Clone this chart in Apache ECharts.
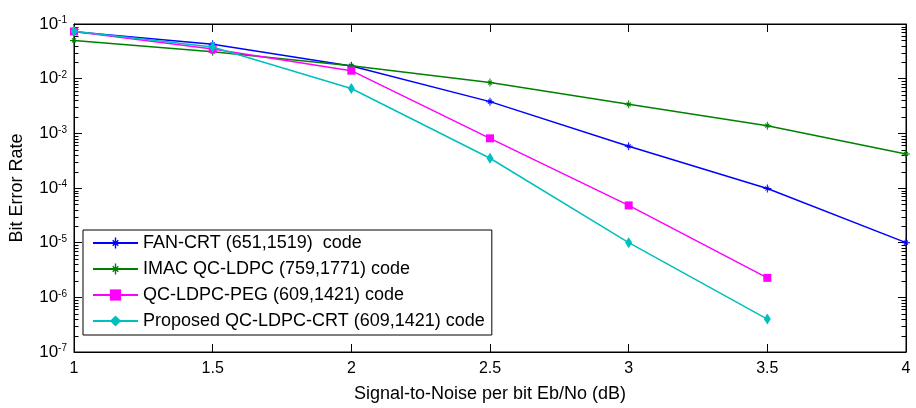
<!DOCTYPE html>
<html>
<head>
<meta charset="utf-8">
<script src="https://cdn.jsdelivr.net/npm/echarts@6/dist/echarts.min.js"></script>
<style>
html,body{margin:0;padding:0;background:#fff;}
#c{width:916px;height:408px;}
</style>
</head>
<body>
<div id="c"></div>
<script>
const snr = [1, 1.5, 2, 2.5, 3, 3.5, 4];
const fanCrt = [0.072, 0.0426, 0.0171, 0.0038, 5.8e-4, 9.8e-5, 1.0e-5];
const imac = [0.05, 0.031, 0.0172, 0.0085, 0.0034, 0.00138, 4.2e-4];
const peg = [0.073, 0.035, 0.014, 8.1e-4, 4.8e-5, 2.27e-6];
const proposed = [0.074, 0.038, 0.0066, 3.5e-4, 1.0e-5, 4.0e-7];
const names = [
  'FAN-CRT (651,1519)  code',
  'IMAC QC-LDPC (759,1771) code',
  'QC-LDPC-PEG (609,1421) code',
  'Proposed QC-LDPC-CRT (609,1421) code'
];
const colors = ['#0000ff', '#008000', '#ff00ff', '#00bfbf'];
const xTicks = [1, 1.5, 2, 2.5, 3, 3.5, 4];
const yDecades = [-7, -6, -5, -4, -3, -2, -1];

const FONT = 'Liberation Sans, Arial, Helvetica, sans-serif';
const star = 'path://M7,0L9,0L9,16L7,16Z M0,7L16,7L16,9L0,9Z M3.3,4.7L4.7,3.3L12.7,11.3L11.3,12.7Z M11.3,3.3L12.7,4.7L4.7,12.7L3.3,11.3Z';

function pairs(ys) { return ys.map((v, i) => [snr[i], v]); }

const chart = echarts.init(document.getElementById('c'), null, {renderer: 'canvas'});

const lineSeries = [fanCrt, imac, peg, proposed].map((d, i) => ({
  name: names[i],
  type: 'line',
  data: pairs(d),
  color: colors[i],
  lineStyle: {width: 1.5, color: colors[i]},
  itemStyle: {color: colors[i]},
  symbol: i < 2 ? star : (i === 2 ? 'rect' : 'diamond'),
  symbolSize: i < 2 ? 8 : (i === 2 ? 8 : [7, 11]),
  showSymbol: true,
  animation: false,
  z: 3 + i
}));

const option = {
  animation: false,
  backgroundColor: '#fff',
  textStyle: {fontFamily: FONT},
  grid: {left: 73, right: 10, top: 24, bottom: 56, show: true, borderColor: '#000', borderWidth: 1, backgroundColor: 'transparent'},
  legend: {
    data: names,
    orient: 'vertical',
    left: 83, top: 230,
    backgroundColor: '#fff',
    borderColor: '#000', borderWidth: 1,
    padding: [4, 7, 5, 9],
    itemWidth: 45, itemHeight: 14, itemGap: 8,
    textStyle: {fontSize: 18, fontFamily: FONT, color: '#000', lineHeight: 18},
    selectedMode: false,
    z: 10
  },
  xAxis: [{
    type: 'value', min: 1, max: 4, interval: 0.5,
    position: 'bottom',
    name: 'Signal-to-Noise per bit Eb/No (dB)',
    nameLocation: 'middle', nameGap: 33,
    nameTextStyle: {fontSize: 18, fontFamily: FONT, color: '#000'},
    axisLine: {show: true, lineStyle: {color: '#000', width: 1}},
    axisTick: {show: true, inside: true, length: 8, lineStyle: {color: '#000'}},
    axisLabel: {fontSize: 16, fontFamily: FONT, color: '#000', margin: 9,
      formatter: v => String(xTicks.find(t => Math.abs(t - v) < 1e-9) ?? v)},
    splitLine: {show: false}
  }, {
    type: 'value', min: 1, max: 4, interval: 0.5,
    position: 'top',
    axisLine: {show: true, lineStyle: {color: '#000', width: 1}},
    axisTick: {show: true, inside: true, length: 8, lineStyle: {color: '#000'}},
    axisLabel: {show: false},
    splitLine: {show: false}
  }],
  yAxis: [{
    type: 'log', logBase: 10, min: 1e-7, max: 0.1,
    position: 'left',
    name: 'Bit Error Rate',
    nameLocation: 'middle', nameGap: 48,
    nameTextStyle: {fontSize: 18, fontFamily: FONT, color: '#000'},
    axisLine: {show: true, lineStyle: {color: '#000', width: 1}},
    axisTick: {show: true, inside: true, length: 8, lineStyle: {color: '#000'}},
    axisLabel: {
      margin: 7,
      formatter: v => '{b|10}{s|' + Math.round(Math.log10(v)) + '}',
      rich: {
        b: {fontSize: 17, fontFamily: FONT, color: '#000', lineHeight: 17, padding: [5, 0, 0, 0], verticalAlign: 'bottom'},
        s: {fontSize: 10, fontFamily: FONT, color: '#000', lineHeight: 10, verticalAlign: 'top'}
      }
    },
    splitLine: {show: false}
  }, {
    type: 'log', logBase: 10, min: 1e-7, max: 0.1,
    position: 'right',
    axisLine: {show: true, lineStyle: {color: '#000', width: 1}},
    axisTick: {show: true, inside: true, length: 8, lineStyle: {color: '#000'}},
    axisLabel: {show: false},
    splitLine: {show: false}
  }],
  series: lineSeries
};
chart.setOption(option);

// minor ticks (2..9 within each decade) on left and right edges
const xl = chart.convertToPixel({xAxisIndex: 0}, xTicks[0]);
const xr = chart.convertToPixel({xAxisIndex: 0}, xTicks[xTicks.length - 1]);
const minorEls = [];
for (let i = 0; i < yDecades.length - 1; i++) {
  for (let k = 2; k <= 9; k++) {
    const v = k * Math.pow(10, yDecades[i]);
    const py = Math.round(chart.convertToPixel({yAxisIndex: 0}, v)) + 0.5;
    minorEls.push({type: 'line', shape: {x1: xl, y1: py, x2: xl + 4.5, y2: py}, style: {stroke: '#000', lineWidth: 1}, z: 1, silent: true});
    minorEls.push({type: 'line', shape: {x1: xr, y1: py, x2: xr - 4.5, y2: py}, style: {stroke: '#000', lineWidth: 1}, z: 1, silent: true});
  }
}
chart.setOption({graphic: minorEls});
</script>
</body>
</html>
